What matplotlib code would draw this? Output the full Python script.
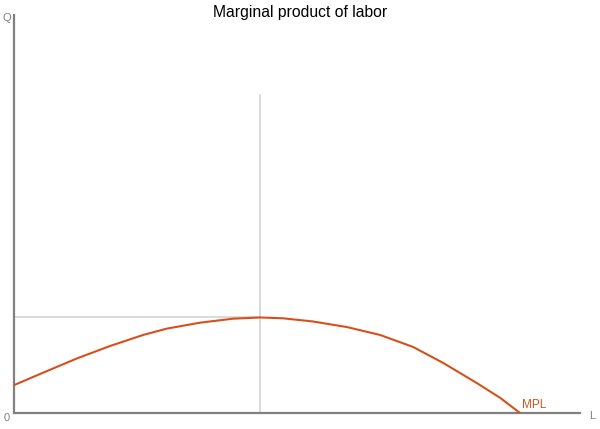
import numpy as np
import matplotlib
matplotlib.use("Agg")
import matplotlib.pyplot as plt

plt.rcParams['font.family'] = ['Liberation Sans', 'DejaVu Sans']

# labor (L) and marginal product of labor
labor = [0, 5.1, 11.1, 16.9, 22.8, 27.0, 32.9, 38.7, 43.5, 47.5, 52.8, 58.8, 64.7, 70.5, 75.8, 81.8, 85.9, 89.4]
mpl_values = [7.0, 10.1, 13.7, 16.8, 19.6, 21.2, 22.7, 23.7, 24.0, 23.8, 23.0, 21.6, 19.6, 16.6, 12.6, 7.5, 3.8, 0]

peak_l = 43.5
peak_q = 24.0
guide_top = 80

curve_color = '#d6501c'
axis_color = '#808080'
guide_color = '#d3d3d3'

fig = plt.figure(figsize=(6, 4.29), dpi=100)
ax = fig.add_axes([14 / 600, 16 / 429, 566 / 600, 398 / 429])
ax.set_xlim(0, 100)
ax.set_ylim(0, 100)

# guide lines at the maximum
ax.plot([0, peak_l], [peak_q, peak_q], color=guide_color, lw=1.2, zorder=1)
ax.plot([peak_l, peak_l], [0, guide_top], color=guide_color, lw=1.2, zorder=1)

ax.plot(labor, mpl_values, color=curve_color, lw=1.5, zorder=3,
        solid_joinstyle='round')
ax.text(labor[-1] + 0.4, 0.5, "MPL", color=curve_color, fontsize=8.5, va='bottom', ha='left')

for side in ['top', 'right']:
    ax.spines[side].set_visible(False)
for side in ['left', 'bottom']:
    ax.spines[side].set_color(axis_color)
    ax.spines[side].set_linewidth(1.6)
ax.set_xticks([])
ax.set_yticks([])

fig.text(7 / 600, 1 - 18 / 429, "Q", color=axis_color, fontsize=8, ha='center', va='center')
fig.text(7 / 600, 1 - 418 / 429, "0", color=axis_color, fontsize=8, ha='center', va='center')
fig.text(592 / 600, 1 - 416 / 429, "L", color=axis_color, fontsize=8, ha='center', va='center')
fig.text(0.5, 1 - 12 / 429, "Marginal product of labor", fontsize=11.3, ha='center', va='center')

fig.savefig("out.png", dpi=100, facecolor='white')
